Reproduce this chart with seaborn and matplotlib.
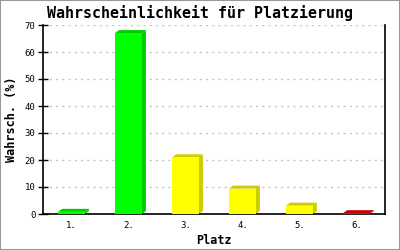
import matplotlib
matplotlib.use("Agg")
import matplotlib.pyplot as plt
import seaborn as sns
import pandas as pd
from matplotlib.patches import Polygon, Rectangle

places = ["1.", "2.", "3.", "4.", "5.", "6."]
probs = [0.8, 67.0, 21.0, 9.4, 3.1, 0.3]
front_colors = ["#00ff00", "#00ff00", "#ffff00", "#ffff00", "#ffff00", "#ff0000"]
side_colors = ["#00cc00", "#00cc00", "#cccc00", "#cccc00", "#cccc00", "#cc0000"]
yticks = [0, 10, 20, 30, 40, 50, 60, 70]

sns.set_theme(style="white")
plt.rcParams["font.family"] = ["DejaVu Sans Mono", "DejaVu Sans"]
plt.rcParams["text.color"] = "black"
plt.rcParams["axes.labelcolor"] = "black"
plt.rcParams["xtick.color"] = "black"
plt.rcParams["ytick.color"] = "black"

fig = plt.figure(figsize=(4, 2.5), dpi=100)
ax = fig.add_axes([43 / 400, 1 - 214 / 250, 342 / 400, 189 / 250])

df = pd.DataFrame({"Platz": places, "p": probs})
sns.barplot(data=df, x="Platz", y="p", hue="Platz", palette=front_colors,
            legend=False, width=0.47, ax=ax, saturation=1, edgecolor="none", zorder=3)

ax.set_xlim(-0.5, 5.5)
ax.set_ylim(0, 70)
ax.set_yticks(yticks)

# 3D depth in pixels -> data
ax_w_px = 342
ax_h_px = 189
dx = 4 * 6 / ax_w_px
dy = 3 * 70 / ax_h_px
for patch, sc in zip(ax.patches, side_colors):
    x = patch.get_x()
    w = patch.get_width()
    h = patch.get_height()
    top = Polygon([(x, h), (x + dx, h + dy), (x + w + dx, h + dy), (x + w, h)],
                  closed=True, facecolor=sc, edgecolor="none", zorder=2)
    side = Polygon([(x + w, 0), (x + w + dx, dy), (x + w + dx, h + dy), (x + w, h)],
                   closed=True, facecolor=sc, edgecolor="none", zorder=2)
    ax.add_patch(top)
    ax.add_patch(side)

ax.yaxis.grid(True, color="#c4c4c4", linestyle=(0, (1.5, 3)), linewidth=1, zorder=0)
ax.set_axisbelow(True)
for s in ["left", "bottom", "right"]:
    ax.spines[s].set_visible(True)
    ax.spines[s].set_color("black")
    ax.spines[s].set_linewidth(1.2)
ax.spines["top"].set_visible(False)

ax.tick_params(axis="y", direction="inout", length=7, width=1, color="black",
               labelcolor="black", labelsize=6.5, pad=2, left=True)
ax.tick_params(axis="x", length=0, labelsize=6.5, pad=5, labelcolor="black")

ax.set_xlabel("Platz", fontsize=8.5, fontweight="bold", labelpad=3, color="black")
ax.set_ylabel("Wahrsch. (%)", fontsize=8.5, fontweight="bold", labelpad=5, color="black")
fig.text(0.5, 1 - 13 / 250, "Wahrscheinlichkeit für Platzierung", ha="center", va="center",
         fontsize=10.8, fontweight="bold", color="black")

fig.add_artist(Rectangle((0, 0), 1, 1, transform=fig.transFigure, fill=False,
                         edgecolor="#999999", linewidth=1.5))

fig.savefig("out.png", dpi=100)
